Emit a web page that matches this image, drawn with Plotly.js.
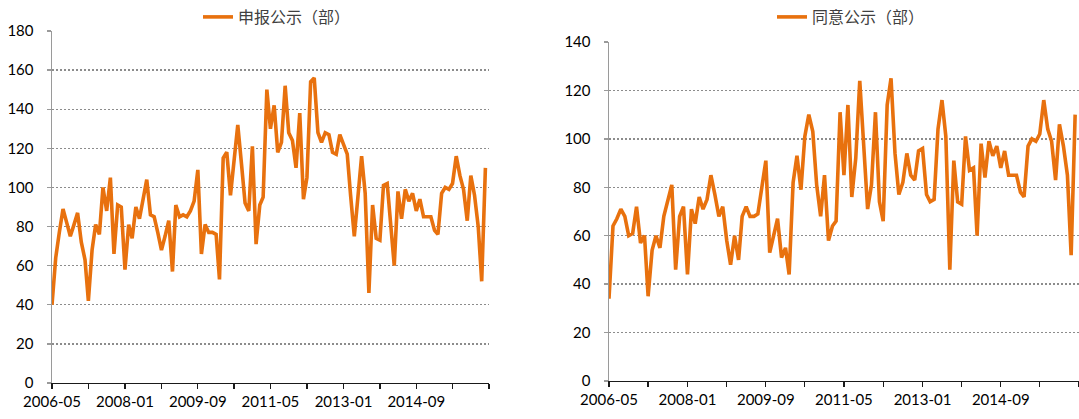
<!DOCTYPE html>
<html>
<head>
<meta charset="utf-8">
<script src="https://cdn.plot.ly/plotly-3.0.1.min.js"></script>
<style>
  html, body { margin: 0; padding: 0; background: #fff; }
  #chart { width: 1079px; height: 419px; }
</style>
</head>
<body>
<div id="chart"></div>
<script>
// Monthly data, 2006-05 to 2016-04 (120 months)
const startYear = 2006, startMonth = 5, nMonths = 120;
const months = [];
for (let k = 0; k < nMonths; k++) {
  const m = startMonth - 1 + k;
  const y = startYear + Math.floor(m / 12);
  const mm = (m % 12) + 1;
  months.push(y + '-' + String(mm).padStart(2, '0') + '-01');
}

const seriesNames = ['申报公示（部）', '同意公示（部）'];

const applied = [
  40, 64, 77, 89, 82, 75, 81, 87, 72, 63,
  42, 68, 81, 76, 100, 88, 105, 66, 91, 90,
  58, 81, 74, 90, 84, 94, 104, 86, 85, 77,
  68, 75, 83, 57, 91, 85, 86, 85, 88, 93,
  109, 66, 81, 77, 77, 76, 53, 115, 118, 96,
  114, 132, 112, 92, 88, 121, 71, 91, 95, 150,
  130, 142, 118, 123, 152, 128, 124, 110, 138, 94,
  105, 154, 156, 128, 123, 128, 127, 118, 117, 127,
  122, 117, 96, 75, 95, 116, 97, 46, 91, 74,
  73, 101, 102, 81, 60, 98, 84, 99, 93, 97,
  88, 94, 85, 85, 85, 78, 76, 97, 100, 99,
  102, 116, 106, 99, 83, 106, 96, 80, 52, 110
];

const approved = [
  34, 64, 67, 71, 68, 60, 61, 72, 57, 60,
  35, 54, 60, 55, 68, 74, 81, 46, 68, 72,
  44, 71, 65, 76, 71, 75, 85, 77, 68, 72,
  58, 48, 60, 50, 68, 72, 68, 68, 69, 80,
  91, 53, 61, 67, 51, 55, 44, 82, 93, 79,
  101, 110, 103, 81, 68, 85, 58, 64, 66, 111,
  85, 114, 76, 92, 124, 96, 71, 81, 111, 74,
  66, 114, 125, 94, 77, 82, 94, 85, 83, 95,
  96, 77, 74, 75, 104, 116, 101, 46, 91, 74,
  73, 101, 87, 88, 60, 98, 84, 99, 93, 97,
  88, 95, 85, 85, 85, 78, 76, 97, 100, 99,
  102, 116, 104, 99, 83, 106, 97, 85, 52, 110
];

const tickDates = ['2006-05-01','2007-03-01','2008-01-01','2008-11-01','2009-09-01','2010-07-01',
                   '2011-05-01','2012-03-01','2013-01-01','2013-11-01','2014-09-01','2015-07-01','2016-05-01'];
const tickLabels = ['2006-05','','2008-01','','2009-09','','2011-05','','2013-01','','2014-09','',''];

const yTicks1 = [0, 20, 40, 60, 80, 100, 120, 140, 160, 180];
const yTicks2 = [0, 20, 40, 60, 80, 100, 120, 140];

const lineColor = '#E8710E';
const tickFont = { family: 'Lato, "Open Sans", sans-serif', size: 15, color: '#000000' };

const traces = [
  { x: months, y: applied, type: 'scatter', mode: 'lines', name: seriesNames[0],
    xaxis: 'x', yaxis: 'y', legend: 'legend',
    line: { color: lineColor, width: 3.6, shape: 'linear' } },
  { x: months, y: approved, type: 'scatter', mode: 'lines', name: seriesNames[1],
    xaxis: 'x2', yaxis: 'y2', legend: 'legend2',
    line: { color: lineColor, width: 3.6, shape: 'linear' } }
];

const W = 1079, H = 419, mL = 52, mR = 0, mT = 31, mB = 36;
const pw = W - mL - mR, ph = H - mT - mB;
const px = v => (v - mL) / pw;
const py = v => (H - mB - v) / ph;

function xAxis(domain) {
  return {
    domain: domain, type: 'date',
    range: ['2006-05-01', '2016-05-01'],
    tickmode: 'array', tickvals: tickDates, ticktext: tickLabels,
    ticks: 'outside', ticklen: 5, tickwidth: 1.3, tickcolor: '#1a1a1a',
    showline: true, linecolor: '#1a1a1a', linewidth: 1.3,
    showgrid: false, zeroline: false,
    tickfont: tickFont, fixedrange: true
  };
}
function yAxis(domain, max, ticks, anchor) {
  return {
    domain: domain, anchor: anchor, range: [0, max],
    tickmode: 'array', tickvals: ticks,
    ticks: 'outside', ticklen: 4, tickwidth: 1.3, tickcolor: '#9a9a9a',
    showline: true, linecolor: '#9a9a9a', linewidth: 1.5,
    showgrid: true, gridcolor: '#8c8c8c', griddash: '2px,2px', gridwidth: 1.4,
    zeroline: false, tickfont: tickFont, ticklabelstandoff: 10, fixedrange: true
  };
}

const layout = {
  width: W, height: H,
  margin: { l: mL, r: mR, t: mT, b: mB, pad: 0 },
  paper_bgcolor: '#fff', plot_bgcolor: '#fff',
  showlegend: true,
  xaxis: Object.assign(xAxis([0, px(489)]), { anchor: 'y' }),
  yaxis: yAxis([0, 1], 180, yTicks1, 'x'),
  xaxis2: Object.assign(xAxis([px(609), 1]), { anchor: 'y2' }),
  yaxis2: yAxis([py(381), py(42)], 140, yTicks2, 'x2'),
  legend: {
    x: px(198), y: py(17), xanchor: 'left', yanchor: 'middle',
    orientation: 'h', bgcolor: 'rgba(0,0,0,0)',
    font: { family: '"Noto Sans CJK SC", sans-serif', size: 16, color: '#404040' }
  },
  legend2: {
    x: px(772), y: py(17), xanchor: 'left', yanchor: 'middle',
    orientation: 'h', bgcolor: 'rgba(0,0,0,0)',
    font: { family: '"Noto Sans CJK SC", sans-serif', size: 16, color: '#404040' }
  }
};

Plotly.newPlot('chart', traces, layout, { displayModeBar: false, staticPlot: true });
</script>
</body>
</html>
